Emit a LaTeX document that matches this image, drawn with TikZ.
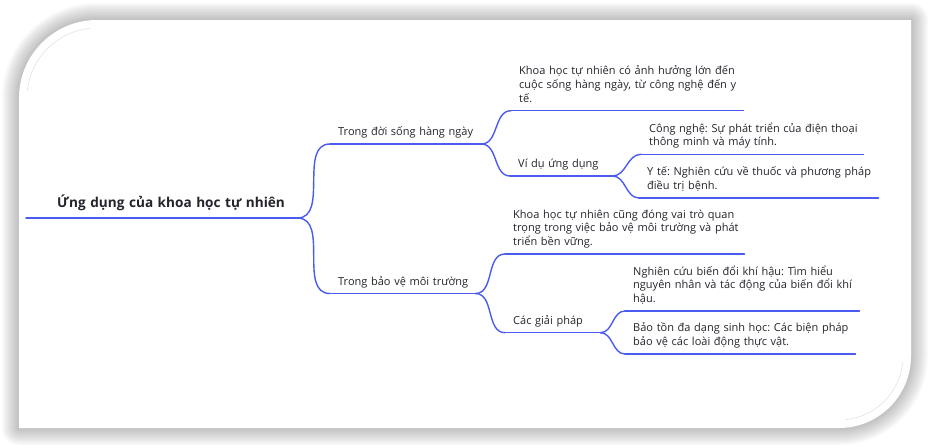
\documentclass[tikz,border=0pt]{standalone}
\usepackage{fontspec}
\setmainfont{Open Sans}
\usepackage{tikz}
\usetikzlibrary{positioning}
\definecolor{mapblue}{RGB}{74,92,240}
\definecolor{ink}{RGB}{36,36,44}
\frenchspacing
\newcommand\oneline[1]{\mbox{#1}}
\tikzset{>=stealth,
  topic/.style={anchor=south west, inner xsep=8pt, inner ysep=4pt,
    align=left, text=ink, font=\fontsize{11}{13.8}\selectfont,
    execute at end node=\strut},
  link/.style={draw=mapblue, line width=1.4pt},
}

\begin{document}
\begin{tikzpicture}[x=1pt, y=-1pt, line cap=round]

  \useasboundingbox (0,0) rectangle (931,447);

  % card with soft shadow
  \foreach \w in {34,31,...,2}
    \draw [line width=\w pt, black, opacity=0.022, line join=round]
      (19,428) -- (19,98) arc[start angle=180, end angle=270, radius=78]
      -- (911,20) -- (911,356) arc[start angle=0, end angle=90, radius=72] -- cycle;
  \fill [white]
      (19,428) -- (19,98) arc[start angle=180, end angle=270, radius=78]
      -- (911,20) -- (911,356) arc[start angle=0, end angle=90, radius=72] -- cycle;
  \draw [gray!25, line width=0.5pt] (97,98) ++(186:70) arc[start angle=186, end angle=264, radius=70];
  \draw [gray!25, line width=0.5pt] (839,356) ++(6:64) arc[start angle=6, end angle=84, radius=64];

  % topics
  \node [topic, font=\bfseries\fontsize{13.6}{16}\selectfont, inner xsep=31pt,
         text width=209pt, inner ysep=6pt] (root) at (26,218)
    {\oneline{Ứng dụng của khoa học tự nhiên}};

  \node [topic, text width=135pt] (life) at (330,144) {\oneline{Trong đời sống hàng ngày}};
  \node [topic, text width=216pt] (lifenote) at (511,110.7)
    {\oneline{Khoa học tự nhiên có ảnh hưởng lớn đến}\\
     \oneline{cuộc sống hàng ngày, từ công nghệ đến y}\\tế.};
  \node [topic, text width=86pt] (examples) at (510,176) {\oneline{Ví dụ ứng dụng}};
  \node [topic, text width=206pt] (tech) at (641,154.3)
    {\oneline{Công nghệ: Sự phát triển của điện thoại}\\
     \oneline{thông minh và máy tính.}};
  \node [topic, text width=223pt] (health) at (639,198)
    {\oneline{Y tế: Nghiên cứu về thuốc và phương pháp}\\
     \oneline{điều trị bệnh.}};

  \node [topic, text width=129pt] (env) at (330,293.5) {\oneline{Trong bảo vệ môi trường}};
  \node [topic, text width=223pt] (envnote) at (505,254)
    {\oneline{Khoa học tự nhiên cũng đóng vai trò quan}\\
     \oneline{trọng trong việc bảo vệ môi trường và phát}\\
     \oneline{triển bền vững.}};
  \node [topic, text width=79pt] (solutions) at (505,332.7) {\oneline{Các giải pháp}};
  \node [topic, text width=218pt] (climate) at (625,311)
    {\oneline{Nghiên cứu biến đổi khí hậu: Tìm hiểu}\\
     \oneline{nguyên nhân và tác động của biến đổi khí}\\hậu.};
  \node [topic, text width=214pt] (bio) at (625,354)
    {\oneline{Bảo tồn đa dạng sinh học: Các biện pháp}\\
     \oneline{bảo vệ các loài động thực vật.}};

  % underlines
  \foreach \n in {root,life,lifenote,examples,tech,health,env,envnote,solutions,climate,bio}
    \draw [link] (\n.south west) -- (\n.south east);

  % branches
  \foreach \a/\b in {root/life, root/env, life/lifenote, life/examples,
                     examples/tech, examples/health, env/envnote, env/solutions,
                     solutions/climate, solutions/bio}
    \draw [link] (\a.south east) to[out=0, in=180] (\b.south west);

\end{tikzpicture}
\end{document}
